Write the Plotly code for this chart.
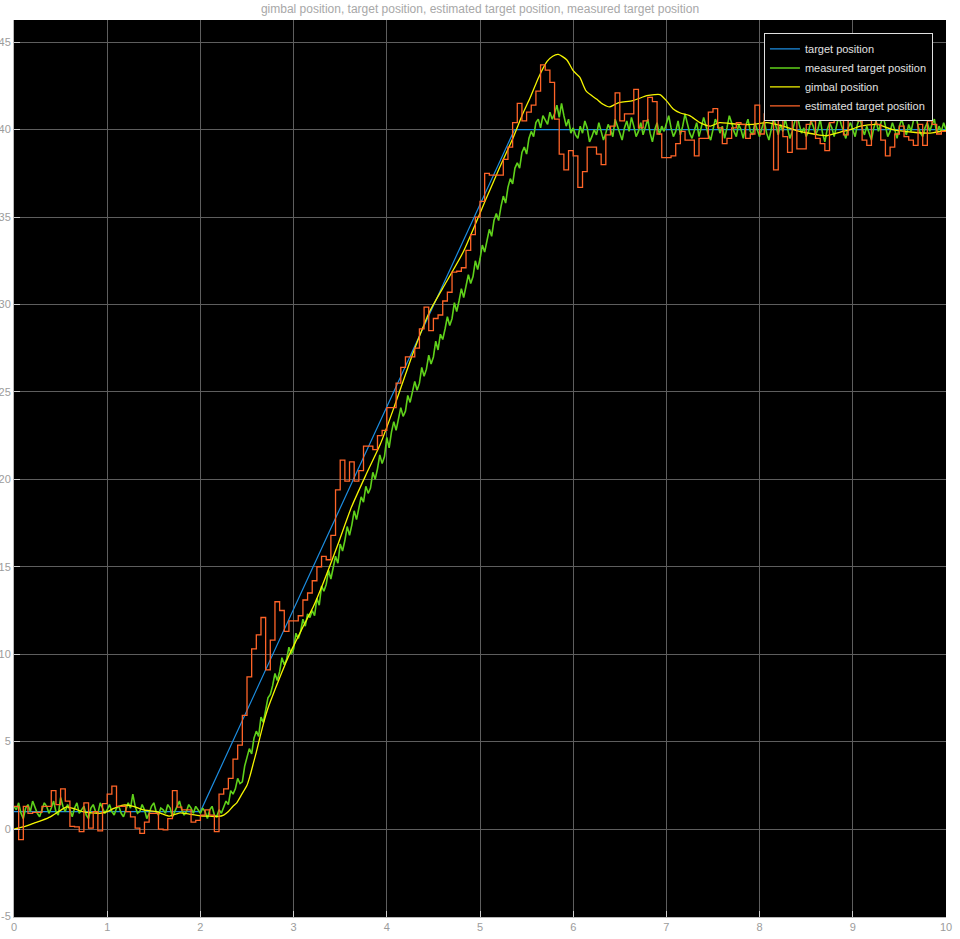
import plotly.graph_objects as go

# ---------------- data ----------------
title_text = "gimbal position, target position, estimated target position, measured target position"
series_names = ["target position", "measured target position", "gimbal position", "estimated target position"]
y_tick_values = [-5, 0, 5, 10, 15, 20, 25, 30, 35, 40, 45]
y_tick_labels = ["-5", "0", "5", "10", "15", "20", "25", "30", "35", "40", "45"]

# target position (piecewise ramp)
target_t = [0.0, 2.0, 5.37, 10.0]
target_v = [1.0, 1.0, 40.0, 40.0]

# measured target position, sampled every 0.025 s
measured_dt = 0.025
measured_v = [
    1.3, 1.1, 1.5, 0.9, 0.6, 1.2, 1.4, 1.0, 1.6, 1.2, 0.9, 0.7, 1.1, 1.5, 1.3, 0.9, 1.2, 1.6, 1.0, 0.8,
    1.8, 1.3, 1.0, 1.4, 1.1, 0.7, 1.2, 1.5, 0.9, 1.1, 1.3, 0.8, 0.6, 1.2, 1.4, 1.0, 0.9, 1.5, 1.2, 0.9,
    1.1, 1.4, 1.0, 0.8, 1.2, 1.3, 0.9, 0.7, 1.1, 1.5, 1.2, 2.0, 1.3, 0.9, 1.0, 1.4, 1.1, 0.6, 0.9, 1.3,
    1.5, 1.0, 0.8, 1.2, 1.1, 0.9, 1.4, 1.2, 0.7, 1.0, 1.3, 1.6, 1.1, 0.8, 1.0, 1.4, 1.2, 0.9, 1.3, 1.1,
    0.9, 1.2, 1.0, 0.6, 1.1, 1.3, 0.8, 0.7, 1.1, 0.9, 1.2, 1.6, 1.4, 2.2, 2.0, 2.3, 2.9, 2.6, 2.7, 3.6,
    4.1, 4.6, 4.3, 5.2, 5.6, 5.3, 6.4, 6.1, 6.8, 7.5, 7.7, 8.2, 8.9, 8.5, 9.0, 9.8, 9.4, 9.7, 10.4, 10.0,
    10.3, 11.2, 10.9, 11.3, 12.0, 11.6, 12.3, 12.1, 12.5, 12.2, 13.2, 12.8, 13.9, 13.6, 14.0, 14.8, 14.3, 15.0, 15.6, 15.2,
    16.3, 15.9, 16.5, 17.3, 16.8, 17.4, 18.2, 17.7, 18.3, 19.0, 18.7, 19.6, 19.2, 19.5, 20.4, 20.0, 20.6, 21.4, 20.9, 21.3,
    22.4, 21.8, 22.7, 23.3, 22.8, 23.5, 24.1, 23.6, 23.9, 24.8, 24.4, 25.0, 25.6, 25.1, 25.5, 26.4, 25.9, 26.3, 27.1, 26.6,
    27.0, 27.9, 27.4, 28.3, 28.0, 28.6, 29.3, 28.8, 29.2, 30.1, 29.6, 30.2, 30.9, 30.4, 31.0, 31.7, 31.2, 31.6, 32.5, 32.0,
    32.6, 33.4, 33.0, 33.7, 34.3, 33.9, 34.8, 35.2, 34.8, 35.6, 36.2, 35.8, 36.7, 37.2, 36.9, 37.8, 38.1, 37.8, 38.7, 39.0,
    38.6, 39.5, 39.9, 39.6, 40.4, 40.6, 40.1, 40.8, 40.5, 40.3, 41.0, 40.6, 40.9, 41.4, 40.7, 41.5, 40.8, 40.2, 40.6, 39.8,
    40.1, 39.7, 39.5, 40.2, 39.8, 40.5, 40.1, 39.3, 39.6, 40.0, 39.7, 40.4, 39.9, 39.4, 39.8, 40.3, 40.0, 39.6, 40.6, 40.2,
    39.8, 39.4, 40.1, 40.5, 39.9, 40.7, 40.2, 39.6, 39.9, 40.4, 39.7, 40.1, 40.6, 39.8, 39.3, 40.0, 40.4, 39.7, 40.2, 39.9,
    40.3, 40.8, 40.1, 39.6, 39.9, 40.5, 39.7, 40.2, 40.9, 40.3, 39.8, 39.5, 40.0, 40.4, 39.6, 40.1, 40.7, 40.2, 39.7, 39.4,
    40.0, 40.6, 40.3, 39.8, 40.2, 39.5, 40.1, 40.8, 40.4, 39.9, 39.6, 40.3, 40.0, 39.5, 40.2, 40.6, 39.9, 39.7, 40.4, 40.0,
    39.6, 40.1, 40.5, 39.8, 39.4, 40.0, 40.7, 40.2, 39.7, 40.3, 39.9, 40.6, 40.1, 39.5, 39.9, 40.4, 40.9, 40.3, 39.8, 40.1,
    39.6, 39.9, 40.5, 40.2, 39.7, 40.0, 40.6, 39.8, 39.3, 40.0, 40.4, 40.1, 39.6, 40.2, 40.8, 40.3, 39.9, 39.5, 40.1, 40.4,
    40.0, 39.6, 40.3, 40.7, 40.1, 39.7, 40.2, 39.8, 39.4, 40.1, 40.5, 39.9, 40.3, 40.8, 40.2, 39.6, 39.9, 40.4, 40.0, 39.5,
    40.2, 40.6, 40.1, 39.7, 40.3, 39.9, 40.5, 40.9, 40.2, 39.8, 39.6, 40.1, 40.4, 39.9, 40.3, 40.6, 39.8, 40.2, 39.9, 40.4,
    40.0,
]

# estimated target position, held every 0.05 s
estimated_dt = 0.05
estimated_v = [
    1.3, -0.6, 1.3, 0.9, 0.95, 0.95, 1.3, 1.3, 2.2, 1.4, 2.3, 1.6, 0.15, 0.13, -0.15, 1.5, 0.05, 1.0, -0.1, 1.45,
    2.0, 2.45, 1.3, 1.3, 1.0, 0.7, 0.05, -0.25, 0.4, 0.9, 0.9, 0.0, -0.05, 0.6, 2.2, 1.25, 1.1, 1.1, 0.4, 0.5,
    0.8, 1.1, 0.8, -0.15, 2.0, 2.3, 2.9, 4.0, 4.8, 6.5, 8.7, 10.3, 11.1, 12.1, 9.1, 10.8, 13.0, 12.5, 11.3, 11.9,
    11.9, 12.2, 13.1, 13.5, 14.2, 15.0, 15.6, 15.4, 16.8, 19.4, 21.1, 19.9, 21.0, 19.9, 20.5, 21.9, 21.9, 21.7, 22.5, 22.8,
    24.1, 24.1, 25.5, 26.4, 27.0, 27.0, 27.5, 28.6, 29.85, 28.5, 29.2, 29.4, 30.2, 30.7, 31.85, 31.9, 32.1, 33.1, 34.0, 35.0,
    35.9, 37.5, 37.4, 37.4, 37.4, 38.3, 39.0, 40.4, 41.5, 40.5, 41.0, 41.4, 42.2, 43.7, 43.4, 42.7, 40.6, 38.6, 37.7, 38.8,
    38.5, 36.7, 37.6, 39.0, 39.0, 38.6, 38.0, 39.7, 40.2, 42.1, 40.5, 40.9, 40.9, 42.3, 40.1, 40.5, 41.85, 41.6, 39.75, 38.4,
    38.4, 38.5, 39.2, 39.9, 39.4, 39.4, 38.5, 39.5, 39.5, 41.0, 41.2, 40.1, 39.2, 39.5, 40.1, 40.4, 40.3, 39.5, 39.75, 41.4,
    39.75, 40.9, 40.7, 37.7, 41.1, 39.6, 38.7, 40.9, 38.9, 38.9, 40.3, 40.5, 39.5, 39.2, 38.8, 40.4, 41.2, 40.6, 39.7, 41.2,
    40.8, 40.5, 39.4, 39.1, 41.6, 40.3, 39.4, 38.5, 39.0, 39.75, 40.2, 39.6, 39.4, 39.1, 40.3, 39.1, 40.5, 40.3, 39.75, 39.9,
    39.9,
]

# gimbal position
gimbal_t = [0.0, 0.1, 0.21, 0.3, 0.39, 0.48, 0.565, 0.65, 0.74, 0.83, 0.92, 1.0, 1.07, 1.17, 1.28, 1.39,
            1.53, 1.6, 1.67, 1.78, 1.88, 2.0, 2.1, 2.19, 2.25, 2.3, 2.35, 2.39, 2.44, 2.5, 2.53, 2.57,
            2.6, 2.64, 2.68, 2.73, 2.78, 2.84, 2.9, 2.96, 3.03, 3.1, 3.21, 3.32, 3.47, 3.62, 3.78, 3.93,
            4.07, 4.28, 4.46, 4.64, 4.82, 5.07, 5.2, 5.36, 5.45, 5.54, 5.63, 5.72, 5.78, 5.84, 5.93, 6.0,
            6.07, 6.14, 6.25, 6.32, 6.39, 6.45, 6.5, 6.64, 6.79, 6.87, 6.93, 7.0, 7.07, 7.15, 7.25, 7.36,
            7.47, 7.57, 7.68, 7.79, 7.93, 8.08, 8.25, 8.43, 8.58, 8.72, 8.86, 9.0, 9.08, 9.26, 9.43, 9.65,
            9.83, 10.0]
gimbal_v = [0.0, 0.12, 0.33, 0.5, 0.7, 1.0, 1.27, 1.15, 0.99, 0.92, 0.9, 1.0, 1.18, 1.37, 1.3, 1.09,
            0.99, 0.85, 0.74, 0.93, 0.85, 0.76, 0.74, 0.72, 0.8, 1.0, 1.3, 1.5, 1.95, 2.5, 3.0, 3.8,
            4.4, 5.27, 6.1, 6.99, 7.7, 8.51, 9.3, 10.04, 10.8, 11.56, 12.7, 14.1, 16.2, 18.4, 20.3, 22.0,
            24.0, 27.2, 29.6, 31.3, 33.0, 36.1, 37.7, 39.6, 40.8, 41.85, 43.0, 43.9, 44.2, 44.3, 44.0, 43.37,
            43.0, 42.2, 41.75, 41.45, 41.3, 41.45, 41.56, 41.66, 41.94, 42.0, 42.0, 41.66, 41.2, 40.95, 40.8, 40.4,
            40.2, 40.4, 40.35, 40.3, 40.3, 40.4, 40.2, 39.9, 39.75, 39.65, 39.85, 40.05, 40.2, 40.3, 40.0, 39.85,
            39.8, 39.95]

measured_t = [round(i * measured_dt, 4) for i in range(len(measured_v))]
estimated_t = [round(i * estimated_dt, 4) for i in range(len(estimated_v))]

# ---------------- figure ----------------
fig = go.Figure()
fig.add_trace(go.Scatter(x=target_t, y=target_v, mode="lines", name=series_names[0],
                         line=dict(color="#1c8de0", width=1.2)))
fig.add_trace(go.Scatter(x=measured_t, y=measured_v, mode="lines", name=series_names[1],
                         line=dict(color="#5fd11a", width=1.6)))
fig.add_trace(go.Scatter(x=gimbal_t, y=gimbal_v, mode="lines", name=series_names[2],
                         line=dict(color="#f5f500", width=1.3, shape="spline", smoothing=0.6)))
fig.add_trace(go.Scatter(x=estimated_t, y=estimated_v, mode="lines", name=series_names[3],
                         line=dict(color="#ff6428", width=1.3, shape="hv")))

axis_common = dict(
    showgrid=True, gridcolor="#5e5e5e", gridwidth=1, zeroline=False,
    ticks="inside", ticklen=6, tickcolor="#d0d0d0", tickwidth=1,
    showline=True, linecolor="#b8b8b8", linewidth=1, automargin=False,
    tickfont=dict(family="Liberation Sans, Arial, sans-serif", size=11, color="#9c9c9c"),
)

fig.update_layout(
    width=960, height=939,
    margin=dict(l=14, r=14, t=20, b=22),
    paper_bgcolor="white", plot_bgcolor="black",
    title=dict(text=title_text, x=0.5, xref="paper", y=0.9905, yref="container", yanchor="middle",
               font=dict(family="Liberation Sans, Arial, sans-serif", size=12, color="#a8a8a8")),
    xaxis=dict(range=[0, 10], dtick=1, tick0=0, **axis_common),
    yaxis=dict(range=[-5.03, 46.27], tickmode="array", tickvals=y_tick_values, ticktext=y_tick_labels,
               **axis_common),
    legend=dict(x=0.986, y=0.985, xanchor="right", yanchor="top",
                bgcolor="black", bordercolor="#e0e0e0", borderwidth=1,
                font=dict(family="Liberation Sans, Arial, sans-serif", size=11, color="#e0e0e0"),
                tracegroupgap=0),
    showlegend=True,
)

fig.write_html("out.html")
